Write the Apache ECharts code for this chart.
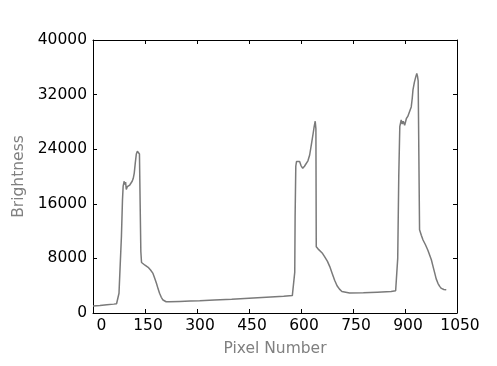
<!DOCTYPE html>
<html>
<head>
<meta charset="utf-8">
<script src="https://cdn.jsdelivr.net/npm/echarts@6/dist/echarts.min.js"></script>
<style>
  html, body { margin: 0; padding: 0; background: #fff; }
  #chart { width: 497px; height: 366px; }
</style>
</head>
<body>
<div id="chart"></div>
<script>
// pixel index along the sensor
const pixelX = [
  0, 20, 40, 60, 68, 72, 75, 78, 82, 85, 87, 90, 92, 94, 96, 99, 102, 106, 110, 113,
  116, 119, 122, 125, 128, 131, 134, 136, 138, 140, 144, 150, 159, 166, 173, 178, 183, 188, 192, 197,
  202, 207, 211, 220, 250, 280, 308, 350, 400, 450, 500, 550, 575, 580, 582, 583, 585, 587, 592, 596,
  600, 605, 610, 615, 620, 625, 630, 635, 638, 641, 643, 644, 649, 654, 661, 668, 676, 683, 690, 697,
  704, 711, 718, 723, 740, 780, 820, 860, 873, 876, 879, 882, 885, 889, 892, 895, 899, 904, 908, 913,
  918, 921, 923, 927, 931, 934, 936, 938, 940, 942, 947, 952, 959, 966, 971, 976, 981, 986, 990, 995,
  1000, 1005, 1012, 1019
];
// brightness
const brightness = [
  1025, 1100, 1200, 1300, 1350, 1500, 2900, 6500, 11200, 16500, 18600, 19300, 18800, 19200, 18100, 18500, 18300, 18750, 18900, 19300,
  19700, 20500, 22000, 23300, 23700, 23600, 23300, 16000, 9000, 7400, 7300, 7000, 6700, 6300, 5800, 5100, 4350, 3500, 2900, 2300,
  1900, 1700, 1650, 1650, 1700, 1750, 1800, 1900, 2000, 2150, 2300, 2450, 2550, 2650, 6000, 14000, 21500, 22200, 22000, 22200,
  21600, 21200, 21500, 21700, 22300, 23150, 24700, 26300, 27300, 28100, 27000, 9700, 9400, 9200, 8800, 8250, 7600, 6800, 5800, 4800,
  4000, 3500, 3150, 3000, 2930, 2950, 3050, 3150, 3250, 3400, 8000, 20000, 27300, 28300, 27700, 28100, 27500, 28500, 28800, 29500,
  30200, 31500, 32700, 33800, 34600, 35100, 34700, 34000, 23000, 12200, 11400, 10700, 10000, 9200, 8500, 7800, 6800, 5800, 5000, 4350,
  3900, 3600, 3450, 3400
];

const xMin = 0, xMax = 1050, xStep = 150;
const yMin = 0, yMax = 40000, yStep = 8000;

const FONT = "DejaVu Sans";
const chart = echarts.init(document.getElementById("chart"), null, { renderer: "canvas" });

const tickStyle = { show: true, inside: true, length: 4, lineStyle: { color: "#000", width: 1 } };
const lineStyleAxis = { show: true, onZero: false, lineStyle: { color: "#000", width: 1 } };

const points = pixelX.map((x, i) => [x, brightness[i]]);

chart.setOption({
  animation: false,
  grid: { left: 93, right: 40, top: 40, bottom: 53 },
  xAxis: [
    {
      type: "value", min: xMin, max: xMax, interval: xStep, position: "bottom",
      axisLine: lineStyleAxis, axisTick: tickStyle, splitLine: { show: false },
      axisLabel: {
        margin: 5, color: "#000", fontFamily: FONT, fontSize: 15.5,
        formatter: v => v === 0 ? "{z|0}" : "{a|" + v + "}",
        rich: {
          a: { fontFamily: FONT, fontSize: 15.5, color: "#000", padding: [0, 0, 0, 6] },
          z: { fontFamily: FONT, fontSize: 15.5, color: "#000", padding: [0, 0, 0, 17] }
        }
      },
      name: "Pixel Number", nameLocation: "middle", nameGap: 28,
      nameTextStyle: { color: "#808080", fontFamily: FONT, fontSize: 15.5 }
    },
    {
      type: "value", min: xMin, max: xMax, interval: xStep, position: "top",
      axisLine: lineStyleAxis, axisTick: tickStyle, axisLabel: { show: false }, splitLine: { show: false }
    }
  ],
  yAxis: [
    {
      type: "value", min: yMin, max: yMax, interval: yStep, position: "left",
      axisLine: lineStyleAxis, axisTick: tickStyle, splitLine: { show: false },
      axisLabel: { margin: 6, color: "#000", fontFamily: FONT, fontSize: 15.5, formatter: v => String(v) },
      name: "Brightness", nameLocation: "middle", nameGap: 62,
      nameTextStyle: { color: "#808080", fontFamily: FONT, fontSize: 15.5 }
    },
    {
      type: "value", min: yMin, max: yMax, interval: yStep, position: "right",
      axisLine: lineStyleAxis, axisTick: tickStyle, axisLabel: { show: false }, splitLine: { show: false }
    }
  ],
  series: [
    {
      type: "line", data: points, xAxisIndex: 0, yAxisIndex: 0,
      showSymbol: false, symbol: "none",
      lineStyle: { color: "#7a7a7a", width: 1.5 }
    }
  ]
});
</script>
</body>
</html>
